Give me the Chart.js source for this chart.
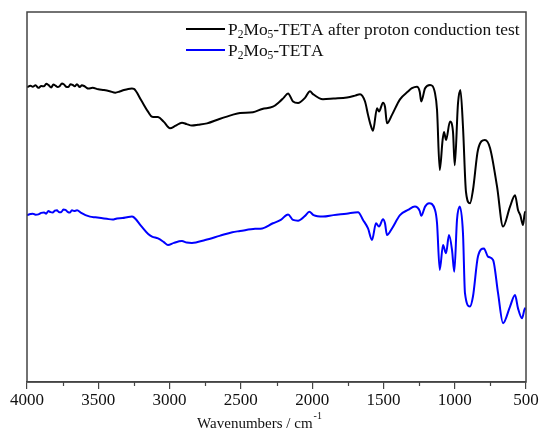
<!DOCTYPE html>
<html>
<head>
<meta charset="utf-8">
<script src="https://cdn.jsdelivr.net/npm/chart.js@4"></script>
<style>
  html, body { margin: 0; padding: 0; background: #fff; }
  canvas { display: block; }
</style>
</head>
<body>
<canvas id="ftir" width="542" height="438"></canvas>
<script>
// FTIR spectra of P2Mo5-TETA before and after the proton conduction test
// (transmittance in arbitrary %, curves offset vertically)

const wavenumbersAfter = [
  4000, 3975, 3960, 3940, 3920, 3900, 3880, 3865, 3850, 3830, 3815, 3800, 3785, 3770, 3755, 3740,
  3725, 3710, 3695, 3680, 3665, 3650, 3630, 3615, 3600, 3585, 3570, 3540,
  3500, 3460, 3420, 3380, 3350, 3320, 3290, 3264, 3250, 3200, 3150, 3123, 3081, 3040, 2997, 2960,
  2913, 2880, 2843, 2800, 2737, 2650, 2560, 2506, 2415, 2350, 2275, 2230, 2200, 2169, 2134, 2099,
  2050, 2015, 1994, 1924, 1850, 1755, 1700, 1664, 1629, 1608, 1590, 1573, 1545, 1531, 1503, 1489,
  1475, 1440, 1384, 1328, 1300, 1265, 1245, 1235, 1208, 1173, 1138, 1124, 1105, 1085, 1075, 1061,
  1033, 1012, 1000, 977, 960, 942, 921, 893, 872, 837, 788, 752, 703, 661, 612, 577,
  556, 540, 521, 507, 500
];
const transAfter = [
  79.7, 80.1, 79.8, 80.2, 79.5, 80.0, 79.9, 80.6, 80.3, 79.6, 80.4, 80.1, 79.7, 80.0, 80.7, 80.4,
  79.8, 79.7, 80.5, 80.3, 79.9, 80.5, 79.7, 80.2, 80.0, 79.6, 79.3, 79.5,
  79.1, 78.9, 78.6, 78.2, 78.5, 78.9, 79.2, 79.3, 79.2, 76.2, 73.0, 71.7, 71.6, 70.3, 68.6, 69.2,
  70.1, 69.7, 69.3, 69.5, 69.9, 71.1, 72.2, 72.7, 72.9, 73.8, 74.4, 75.7, 76.8, 78.0, 75.8, 75.4,
  76.8, 78.6, 77.8, 76.4, 76.6, 76.9, 77.4, 77.8, 75.8, 72.2, 69.5, 67.9, 74.0, 73.1, 75.5, 74.4,
  69.9, 72.2, 76.4, 78.5, 79.4, 79.8, 78.4, 75.8, 79.4, 80.3, 78.0, 73.5, 57.3, 65.4, 67.6, 65.4,
  70.4, 67.6, 58.6, 75.3, 78.9, 69.0, 51.4, 48.3, 51.9, 62.7, 65.4, 63.2, 52.8, 42.0, 47.4, 50.5,
  46.5, 45.1, 42.4, 46.0, 45.7
];

const wavenumbersFresh = [
  4000, 3975, 3960, 3940, 3920, 3900, 3880, 3865, 3850, 3835, 3820, 3805, 3790, 3775, 3760, 3745,
  3730, 3715, 3700, 3685, 3670, 3649, 3620, 3590, 3558, 3520,
  3480, 3440, 3400, 3369, 3330, 3290, 3264, 3250, 3200, 3150, 3123, 3081, 3040, 3011, 2970, 2913,
  2880, 2843, 2750, 2650, 2560, 2506, 2400, 2350, 2275, 2220, 2169, 2134, 2099, 2050, 2020, 1990,
  1924, 1850, 1760, 1678, 1643, 1608, 1580, 1552, 1531, 1503, 1489, 1475, 1440, 1384, 1328, 1279,
  1245, 1235, 1208, 1180, 1138, 1124, 1105, 1082, 1061, 1040, 1019, 1003, 984, 965, 942, 928,
  893, 872, 837, 795, 767, 731, 696, 661, 612, 577, 556, 528, 507, 500
];
const transFresh = [
  45.1, 45.4, 45.5, 45.2, 45.3, 45.7, 45.8, 45.5, 46.2, 45.9, 45.8, 46.3, 46.4, 45.9, 45.9, 46.6,
  46.5, 46.0, 45.8, 46.4, 46.2, 46.4, 45.7, 45.1, 44.7, 44.5,
  44.3, 44.1, 43.9, 44.2, 44.3, 44.6, 44.7, 44.5, 42.2, 40.0, 39.3, 38.8, 37.8, 37.0, 37.6, 38.1,
  37.7, 37.6, 38.4, 39.5, 40.5, 40.8, 41.4, 41.5, 42.9, 43.8, 45.3, 43.8, 43.6, 44.9, 46.0, 45.1,
  44.7, 45.1, 45.5, 45.9, 43.8, 41.5, 38.4, 42.9, 42.0, 44.0, 42.9, 39.7, 41.5, 45.1, 46.5, 47.4,
  46.2, 44.9, 47.4, 48.3, 46.5, 42.9, 30.3, 37.0, 34.8, 39.7, 35.7, 29.8, 43.8, 47.4, 40.2, 24.0,
  20.4, 23.1, 33.9, 36.1, 33.9, 33.0, 24.0, 15.9, 20.4, 23.5, 19.9, 17.2, 19.9, 19.5
];

const xTicks = [4000, 3500, 3000, 2500, 2000, 1500, 1000, 500];
const xMinorTicks = [3750, 3250, 2750, 2250, 1750, 1250, 750];

// "_" marks the next character as a subscript
const seriesLabels = ['P_2Mo_5-TETA after proton conduction test', 'P_2Mo_5-TETA'];
const seriesColors = ['#000000', '#0000ff'];

const SERIF = '"Liberation Serif", "Times New Roman", serif';
const FRAME = '#444444';

function drawRich(ctx, text, x, y, size, subSize, subShift) {
  let cx = x;
  for (let i = 0; i < text.length; i++) {
    let ch = text[i];
    if (ch === '_' && i + 1 < text.length) {
      ch = text[++i];
      ctx.font = subSize + 'px ' + SERIF;
      ctx.fillText(ch, cx, y + subShift);
    } else {
      ctx.font = size + 'px ' + SERIF;
      ctx.fillText(ch, cx, y);
    }
    cx += ctx.measureText(ch).width;
  }
  return cx;
}

const decorations = {
  id: 'decorations',
  afterDraw(chart) {
    const { ctx, chartArea: a } = chart;
    const xs = chart.scales.x;
    ctx.save();

    // plot frame
    ctx.strokeStyle = FRAME;
    ctx.lineWidth = 1.5;
    ctx.strokeRect(a.left, a.top, a.right - a.left, a.bottom - a.top);

    // minor ticks
    ctx.lineWidth = 1.2;
    ctx.beginPath();
    xMinorTicks.forEach(v => {
      const px = Math.round(xs.getPixelForValue(v)) + 0.5;
      ctx.moveTo(px, a.bottom);
      ctx.lineTo(px, a.bottom + 4);
    });
    ctx.stroke();

    // legend
    ctx.textBaseline = 'alphabetic';
    ctx.textAlign = 'left';
    seriesLabels.forEach((lab, i) => {
      const y = 29 + i * 21;
      ctx.strokeStyle = seriesColors[i];
      ctx.lineWidth = 2;
      ctx.beginPath();
      ctx.moveTo(186, y);
      ctx.lineTo(225, y);
      ctx.stroke();
      ctx.fillStyle = '#111';
      drawRich(ctx, lab, 228, y + 6, 17.4, 11.5, 3);
    });

    // axis title with superscript
    ctx.fillStyle = '#111';
    ctx.font = '15px ' + SERIF;
    const main = 'Wavenumbers / cm';
    const w1 = ctx.measureText(main).width;
    ctx.font = '10px ' + SERIF;
    const w2 = ctx.measureText('-1').width;
    const startX = 259 - (w1 + w2) / 2;
    ctx.font = '15px ' + SERIF;
    ctx.fillText(main, startX, 428);
    ctx.font = '10px ' + SERIF;
    ctx.fillText('-1', startX + w1 + 1, 419);

    ctx.restore();
  }
};

new Chart(document.getElementById('ftir'), {
  type: 'line',
  data: {
    datasets: [
      {
        label: seriesLabels[0],
        data: wavenumbersAfter.map((x, i) => ({ x, y: transAfter[i] })),
        borderColor: seriesColors[0],
        borderWidth: 2,
        pointRadius: 0,
        cubicInterpolationMode: 'monotone',
        fill: false
      },
      {
        label: seriesLabels[1],
        data: wavenumbersFresh.map((x, i) => ({ x, y: transFresh[i] })),
        borderColor: seriesColors[1],
        borderWidth: 2,
        pointRadius: 0,
        cubicInterpolationMode: 'monotone',
        fill: false
      }
    ]
  },
  options: {
    responsive: false,
    animation: false,
    layout: { padding: { left: 27, top: 12, right: 16, bottom: 0 } },
    plugins: { legend: { display: false }, tooltip: { enabled: false } },
    scales: {
      x: {
        type: 'linear',
        reverse: true,
        min: 500,
        max: 4000,
        afterBuildTicks: s => { s.ticks = xTicks.map(v => ({ value: v })); },
        afterFit: s => { s.height = 56; },
        ticks: {
          callback: v => String(v),
          font: { family: SERIF, size: 17 },
          color: '#111',
          padding: 1,
          maxRotation: 0,
          autoSkip: false
        },
        grid: { drawOnChartArea: false, tickLength: 7, color: FRAME, lineWidth: 1.2 },
        border: { color: FRAME, width: 1.5 }
      },
      y: { display: false, min: 0, max: 100 }
    }
  },
  plugins: [decorations]
});
</script>
</body>
</html>
